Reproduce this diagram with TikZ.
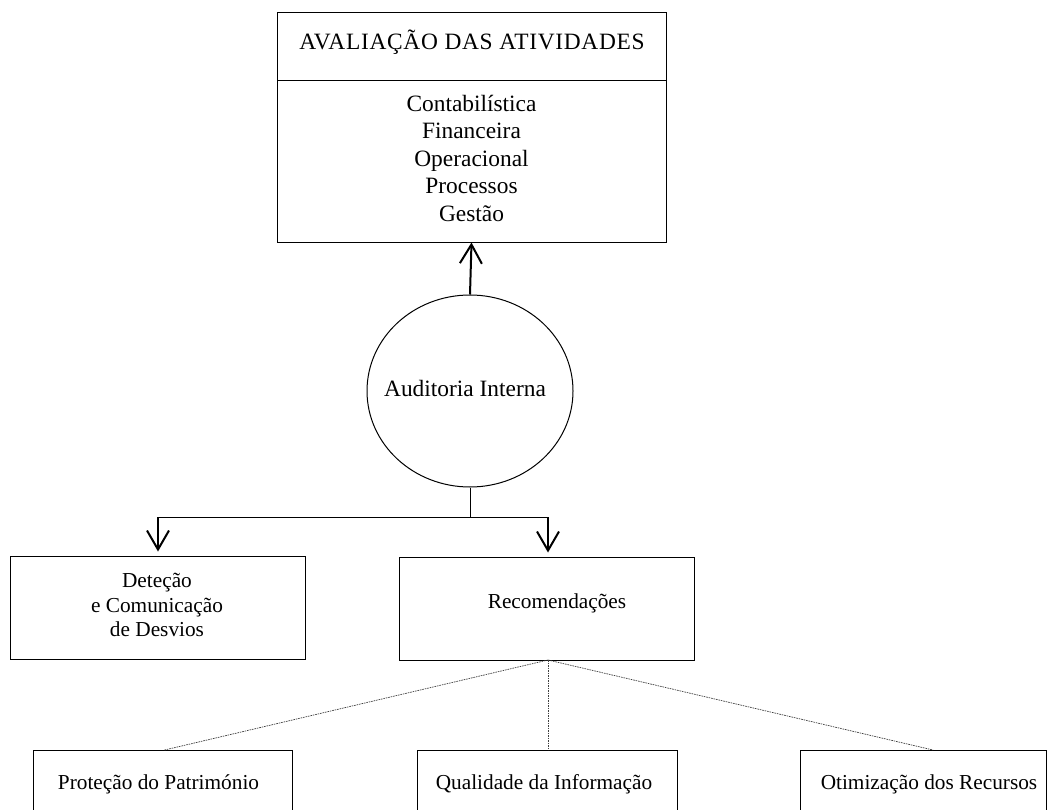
\documentclass[tikz,border=0pt]{standalone}
\usepackage{fontspec}
\setmainfont{Liberation Serif}
\usetikzlibrary{shapes.geometric,arrows.meta,calc}
\tikzset{
  txt/.style={font=\fontsize{23.4}{27.5}\selectfont, inner sep=0pt, align=center},
  stxt/.style={font=\fontsize{21.3}{24.5}\selectfont, inner sep=0pt, align=center},
  boxr/.style={draw, line width=1pt, rectangle, inner sep=0pt},
  thinline/.style={line width=1pt},
  arr/.style={line width=2pt, -{Straight Barb[length=19pt,width=22pt,line width=2pt]}},
  dotl/.style={line width=0.7pt, draw=black!75, dash pattern=on 1.6pt off 0.9pt},
}
\begin{document}
\begin{tikzpicture}[x=1pt,y=-1pt]
\useasboundingbox (0,0) rectangle (1048,810);
\clip (0,0) rectangle (1048,810);
% top box
\node[boxr, minimum width=389pt, minimum height=229pt] (top) at (471.5,127.5) {};
\draw[thinline] (277,81) -- (666,81);
\node[txt] (title) at (472,42) {\addfontfeatures{LetterSpace=3}AVALIAÇÃO DAS ATIVIDADES};
\node[txt] (list) at (471.5,158) {Contabilística\\Financeira\\Operacional\\Processos\\Gestão};
% circle
\node[draw, ellipse, line width=1pt, minimum width=206pt, minimum height=192pt, inner sep=0pt] (ai) at (470,391) {};
\node[txt] (ailab) at (465,388) {Auditoria Interna};
\draw[arr] (ai.north) -- (top.south);
% second row
\node[boxr, minimum width=295pt, minimum height=103pt] (det) at (157.5,607.5) {};
\node[stxt] (detlab) at (157,605) {Deteção\\e Comunicação\\de Desvios};
\node[boxr, minimum width=295pt, minimum height=103pt] (rec) at (546.5,608.5) {};
\node[stxt] (reclab) at (557,603) {Recomendações};
\coordinate (split) at (470,517);
\coordinate (lft) at (158,517);
\coordinate (rgt) at (548,517);
\draw[thinline] (ai.south) -- (split);
\draw[thinline] (lft) -- (rgt);
\draw[arr, shorten >=4pt] (lft) -- (det.north -| lft);
\draw[arr, shorten >=4pt] (rgt) -- (rec.north -| rgt);
% bottom row
\node[boxr, minimum width=259pt, minimum height=90pt, anchor=north] (pp) at (162.5,750) {};
\node[stxt] (pplab) at (158.5,784) {Proteção do Património};
\node[boxr, minimum width=260pt, minimum height=90pt, anchor=north] (qi) at (547,750) {};
\node[stxt] (qilab) at (544,784) {Qualidade da Informação};
\node[boxr, minimum width=246pt, minimum height=90pt, anchor=north] (or) at (923,750) {};
\node[stxt] (orlab) at (929,784) {Otimização dos Recursos};
\coordinate (rs) at (548,660);
\draw[dotl] (rs) -- ($(pp.north)+(2,0)$);
\draw[dotl] (rs) -- ($(qi.north)+(1,0)$);
\draw[dotl] (rs) -- ($(or.north)+(10,0)$);
\end{tikzpicture}
\end{document}
